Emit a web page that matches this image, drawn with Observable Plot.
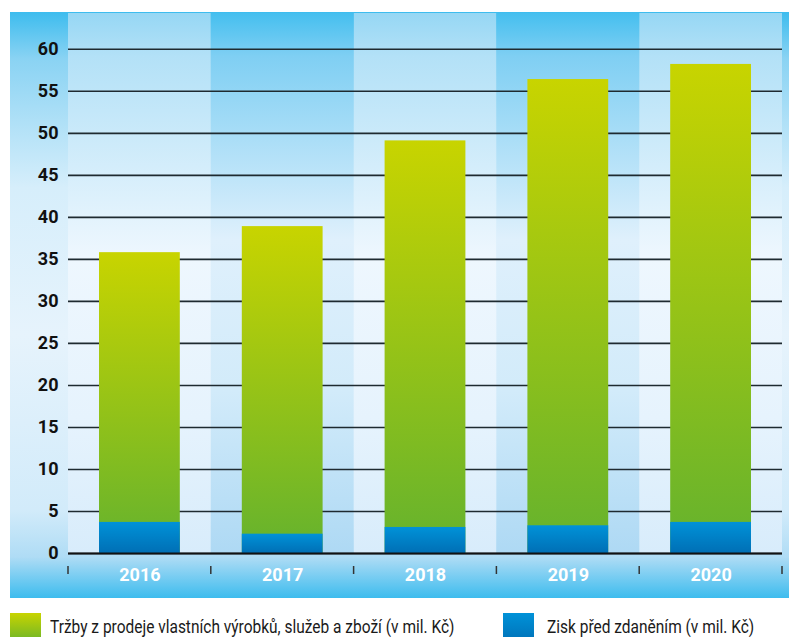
<!DOCTYPE html>
<html>
<head>
<meta charset="utf-8">
<script src="https://cdn.jsdelivr.net/npm/d3@7"></script>
<script src="https://cdn.jsdelivr.net/npm/@observablehq/plot@0.6"></script>
<style>
html, body { margin: 0; padding: 0; background: #fff; }
#wrap { position: relative; width: 789px; height: 637px; overflow: hidden; font-family: Roboto, "Noto Sans", sans-serif; }
#chart { position: absolute; left: 10px; top: 12px; width: 779px; height: 586px; background: linear-gradient(to bottom, #3dbcee 0%, #8ad3f3 8%, #d6eefb 30%, #e6f3fc 55%, #d2ebfa 85%, #afdcf5 93%, #3dbcee 100%); }
#chart svg { display: block; }
.item { position: absolute; top: 613px; height: 31px; white-space: nowrap; }
.sw { position: absolute; left: 0; top: 0; width: 31px; height: 31px; }
.lbl { position: absolute; top: 3px; font-size: 18px; color: #1a1a1a; transform-origin: 0 0; transform: scaleX(0.86); }
</style>
</head>
<body>
<div id="wrap"><div id="chart"></div></div>
<script>
const years = ["2016", "2017", "2018", "2019", "2020"];
const revenue = [35.8, 38.9, 49.1, 56.4, 58.2];
const profit = [3.7, 2.3, 3.1, 3.3, 3.7];
const yTicks = [0, 5, 10, 15, 20, 25, 30, 35, 40, 45, 50, 55, 60];
const yMax = 64.26;
const legendLabels = ["Tržby z prodeje vlastních výrobků, služeb a zboží (v mil. Kč)", "Zisk před zdaněním (v mil. Kč)"];

const rows = years.map((y, i) => ({year: y, revenue: revenue[i], profit: profit[i]}));
const lightCols = years.filter((d, i) => i % 2 === 0);
const darkCols = years.filter((d, i) => i % 2 === 1);

const defs = () => {
  const d = d3.create("svg:defs");
  const grad = (id, stops) => {
    const g = d.append("linearGradient").attr("id", id).attr("x1", 0).attr("y1", 0).attr("x2", 0).attr("y2", 1);
    stops.forEach(([o, c]) => g.append("stop").attr("offset", o).attr("stop-color", c));
  };
  grad("colA", [[0, "#96d7f4"], [0.08, "#b3e1f7"], [0.45, "#eef7fe"], [0.75, "#e6f3fd"], [1, "#d8ecfb"]]);
  grad("colB", [[0, "#45bfef"], [0.08, "#7fcff3"], [0.42, "#dff0fc"], [0.7, "#d2ebfa"], [1, "#aed9f4"]]);
  grad("gGreen", [[0, "#c8d400"], [1, "#64b22e"]]);
  grad("gBlue", [[0, "#0092d8"], [1, "#006fb5"]]);
  return d.node();
};

const xTicks = (index, scales, values, dims) => {
  const g = d3.create("svg:g");
  const edges = years.map(y => scales.x(y)).concat([dims.width - dims.marginRight]);
  const y0 = dims.height - dims.marginBottom;
  edges.forEach(x => g.append("line").attr("x1", x).attr("x2", x).attr("y1", y0 + 13).attr("y2", y0 + 21).attr("stroke", "#333").attr("stroke-width", 1.5));
  return g.node();
};

const chart = Plot.plot({
  width: 779,
  height: 586,
  marginLeft: 58,
  marginRight: 7,
  marginTop: 1,
  marginBottom: 45,
  style: {fontFamily: "Roboto, sans-serif", background: "none", overflow: "visible"},
  x: {type: "band", domain: years, padding: 0, round: false, label: null},
  y: {domain: [0, yMax], label: null},
  marks: [
    defs,
    Plot.barY(lightCols, {x: d => d, y1: 0, y2: yMax, fill: "url(#colA)"}),
    Plot.barY(darkCols, {x: d => d, y1: 0, y2: yMax, fill: "url(#colB)"}),
    Plot.ruleY(yTicks, {stroke: "#1e2a30", strokeWidth: 1.6}),
    Plot.barY(rows, {x: "year", y: "revenue", fill: "url(#gGreen)", insetLeft: 31, insetRight: 31}),
    Plot.barY(rows, {x: "year", y: "profit", fill: "url(#gBlue)", insetLeft: 31, insetRight: 31}),
    Plot.ruleY([0], {stroke: "#111", strokeWidth: 2}),
    Plot.axisY({ticks: yTicks, tickSize: 0, tickPadding: 10, fontSize: 18, fontWeight: "bold", fill: "#111", label: null}),
    Plot.axisX({tickSize: 0, tickPadding: 15, fontSize: 18, fontWeight: "bold", fill: "#fff", label: null}),
    xTicks
  ]
});
document.getElementById("chart").appendChild(chart);

const legendPos = [10, 503];
const legendSw = ["linear-gradient(to bottom, #c8d400, #64b22e)", "linear-gradient(to bottom, #0092d8, #006fb5)"];
const wrap = document.getElementById("wrap");
legendLabels.forEach((t, i) => {
  const it = document.createElement("div");
  it.className = "item";
  it.style.left = legendPos[i] + "px";
  const sw = document.createElement("div");
  sw.className = "sw";
  sw.style.background = legendSw[i];
  const lb = document.createElement("span");
  lb.className = "lbl";
  lb.style.left = (i === 0 ? 40 : 44) + "px";
  lb.textContent = t;
  it.appendChild(sw);
  it.appendChild(lb);
  wrap.appendChild(it);
});
</script>
</body>
</html>
